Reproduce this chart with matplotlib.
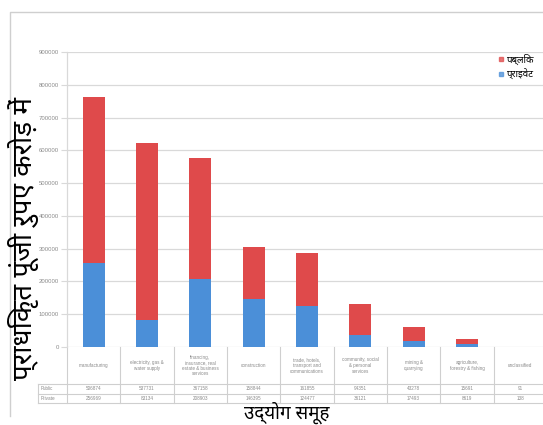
import matplotlib
matplotlib.use("Agg")
import matplotlib.pyplot as plt
from matplotlib import font_manager
import numpy as np

# ---- data -------------------------------------------------------------
categories = [
    "manufacturing",
    "electricity, gas &\nwater supply",
    "financing,\ninsurance, real\nestate & business\nservices",
    "construction",
    "trade, hotels,\ntransport and\ncommunications",
    "community, social\n& personal\nservices",
    "mining &\nquarrying",
    "agriculture,\nforestry & fishing",
    "unclassified",
]
private_vals = [256969, 83134, 208903, 146395, 124477, 36121, 17493, 8619, 138]
public_vals = [506874, 537731, 367158, 158844, 161855, 94351, 43278, 15691, 91]
yticks = [0, 100000, 200000, 300000, 400000, 500000, 600000, 700000, 800000, 900000]

legend_public = "पब्लिक"
legend_private = "प्राइवेट"
ylabel_text = "प्राधिकृत पूंजी रुपए करोड़ में"
xlabel_text = "उद्योग समूह"

# ---- fonts ------------------------------------------------------------
deva_family = "DejaVu Sans"
cands = [p for p in font_manager.findSystemFonts()
         if "NotoSansDevanagari" in p and "UI" not in p]
pref = [p for p in cands if "Regular" in p] or cands
if pref:
    font_manager.fontManager.addfont(pref[0])
    deva_family = font_manager.FontProperties(fname=pref[0]).get_name()
deva = [deva_family, "DejaVu Sans"]
latin = ["Liberation Sans", "DejaVu Sans"]

RED = "#df4a4b"
BLUE = "#4b8fd8"
GRID = "#d9d9d9"
TXT = "#8a8a8a"

W, H = 543, 425
fig = plt.figure(figsize=(W / 100, H / 100), dpi=100)

# overlay in pixel coordinates for frame and data table
ov = fig.add_axes([0, 0, 1, 1], zorder=0)
ov.set_xlim(0, W)
ov.set_ylim(H, 0)
ov.axis("off")

# chart frame
ov.plot([10, 10, 545], [416, 12, 12], color="#cfcfcf", lw=1.0)

# plot area
x0, x1, y_top, y_bot = 67, 547, 52, 347
ax = fig.add_axes([x0 / W, 1 - y_bot / H, (x1 - x0) / W, (y_bot - y_top) / H], zorder=1)
ax.patch.set_alpha(0)

x = np.arange(len(categories))
ax.bar(x, private_vals, width=0.41, color=BLUE, zorder=3)
ax.bar(x, public_vals, width=0.41, bottom=private_vals, color=RED, zorder=3)

ax.set_xlim(-0.5, len(categories) - 0.5)
ax.set_ylim(0, 900000)
ax.set_yticks(yticks)
ax.set_yticklabels([str(v) for v in yticks], fontsize=4.3, color=TXT, family=latin)
ax.set_xticks([])
ax.yaxis.grid(True, color=GRID, lw=0.9, zorder=0)
ax.tick_params(axis="y", length=4, width=0.8, color=GRID, pad=2)
for s in ["top", "right", "bottom"]:
    ax.spines[s].set_visible(False)
ax.spines["left"].set_color(GRID)
ax.spines["left"].set_linewidth(0.9)

# data table under the plot
cw = (x1 - x0) / len(categories)
r0, r1, r2, r3 = 347, 384, 393.5, 403
lc = "#cfcfcf"
ov.plot([38, x1], [r1, r1], color=lc, lw=0.8)
ov.plot([38, x1], [r2, r2], color=lc, lw=0.8)
ov.plot([38, x1], [r3, r3], color=lc, lw=0.8)
ov.plot([38, 38], [r1, r3], color=lc, lw=0.8)
for i in range(len(categories) + 1):
    xx = x0 + i * cw
    ov.plot([xx, xx], [r0, r3], color=lc, lw=0.8)

for i, cat in enumerate(categories):
    cx = x0 + (i + 0.5) * cw
    ov.text(cx, (r0 + r1) / 2, cat, ha="center", va="center", fontsize=3.3,
            color=TXT, family=latin, linespacing=1.15)
    ov.text(cx, (r1 + r2) / 2, str(public_vals[i]), ha="center", va="center",
            fontsize=3.3, color=TXT, family=latin)
    ov.text(cx, (r2 + r3) / 2, str(private_vals[i]), ha="center", va="center",
            fontsize=3.3, color=TXT, family=latin)
ov.text(41, (r1 + r2) / 2, "Public", ha="left", va="center", fontsize=3.3,
        color=TXT, family=latin)
ov.text(41, (r2 + r3) / 2, "Private", ha="left", va="center", fontsize=3.3,
        color=TXT, family=latin)

# legend
ov.plot([501], [59], marker="s", ms=3.2, color=RED, alpha=0.75, lw=0)
ov.plot([501], [74], marker="s", ms=3.2, color=BLUE, alpha=0.75, lw=0)
ov.text(506, 59, legend_public, ha="left", va="center", fontsize=7, family=deva)
ov.text(506, 74, legend_private, ha="left", va="center", fontsize=7, family=deva)

# axis titles
ov.text(23, 238, ylabel_text, rotation=90, ha="center", va="center",
        fontsize=20, family=deva, zorder=5)
ov.text(287, 401.5, xlabel_text, ha="center", va="top", fontsize=13.5,
        family=deva, zorder=5)

fig.savefig("out.png", dpi=100)
